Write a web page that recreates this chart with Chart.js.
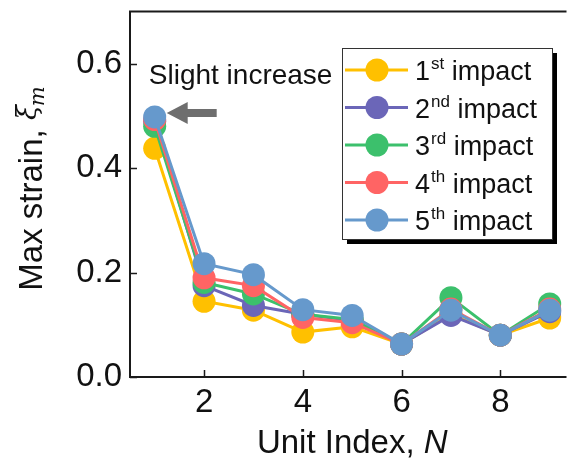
<!DOCTYPE html>
<html>
<head>
<meta charset="utf-8">
<script src="https://cdn.jsdelivr.net/npm/chart.js@4.4.1/dist/chart.umd.min.js"></script>
<style>
  html, body { margin: 0; padding: 0; background: #fff; }
  #wrap { width: 576px; height: 461px; }
</style>
</head>
<body>
<div id="wrap"><canvas id="strainChart"></canvas></div>
<script>
// max strain per unit, one array per impact
const unitIndex = [1, 2, 3, 4, 5, 6, 7, 8, 9];
const impact1 = [0.438, 0.145, 0.128, 0.086, 0.096, 0.063, 0.120, 0.080, 0.113];
const impact2 = [0.490, 0.175, 0.137, 0.120, 0.108, 0.063, 0.118, 0.080, 0.125];
const impact3 = [0.480, 0.181, 0.159, 0.120, 0.110, 0.063, 0.152, 0.080, 0.140];
const impact4 = [0.493, 0.190, 0.175, 0.114, 0.104, 0.063, 0.130, 0.080, 0.130];
const impact5 = [0.498, 0.217, 0.196, 0.129, 0.118, 0.063, 0.128, 0.080, 0.128];

const impactNum = ["1", "2", "3", "4", "5"];
const impactSuffix = ["st", "nd", "rd", "th", "th"];
const colors = ["#ffc000", "#6b66b8", "#3cc06c", "#ff6464", "#6699cc"];

const xTicks = [2, 4, 6, 8];
const yTicks = [0, 0.2, 0.4, 0.6];

// arrow + note near the first unit
const noteText = "Slight increase";
const noteAt = { x: 0.88, y: 0.562 };

const FONT = "'Liberation Sans', Arial, sans-serif";

const series = [impact1, impact2, impact3, impact4, impact5];
const datasets = series.map((vals, i) => ({
  label: impactNum[i] + impactSuffix[i] + " impact",
  data: unitIndex.map((x, j) => ({ x: x, y: vals[j] })),
  borderColor: colors[i],
  backgroundColor: colors[i],
  pointBackgroundColor: colors[i],
  pointBorderWidth: 0,
  pointRadius: 11.5,
  borderWidth: 3,
  order: series.length - i, // later impacts on top
}));

const extras = {
  id: "extras",
  afterDraw(chart) {
    const ctx = chart.ctx;
    const a = chart.chartArea;
    const xs = chart.scales.x, ys = chart.scales.y;
    ctx.save();

    // frame (top, left, bottom)
    ctx.strokeStyle = "#1a1a1a";
    ctx.lineWidth = 2;
    ctx.beginPath();
    ctx.moveTo(a.right + 2, a.top);
    ctx.lineTo(a.left, a.top);
    ctx.lineTo(a.left, a.bottom);
    ctx.lineTo(a.right + 2, a.bottom);
    ctx.stroke();

    // inward ticks
    ctx.lineWidth = 1.5;
    ctx.beginPath();
    xTicks.forEach(v => {
      const px = Math.round(xs.getPixelForValue(v)) + 0.5;
      ctx.moveTo(px, a.bottom);
      ctx.lineTo(px, a.bottom - 7);
    });
    yTicks.forEach(v => {
      const py = Math.round(ys.getPixelForValue(v)) + 0.5;
      ctx.moveTo(a.left, py);
      ctx.lineTo(a.left + 7, py);
    });
    ctx.stroke();

    // x title: Unit Index, N
    ctx.fillStyle = "#111";
    ctx.textBaseline = "alphabetic";
    ctx.textAlign = "left";
    ctx.font = "33px " + FONT;
    const xt1 = "Unit Index, ";
    const w1 = ctx.measureText(xt1).width;
    ctx.font = "italic 33px " + FONT;
    const w2 = ctx.measureText("N").width;
    let sx = (a.left + a.right) / 2 + 5 - (w1 + w2) / 2;
    ctx.font = "33px " + FONT;
    ctx.fillText(xt1, sx, 453);
    ctx.font = "italic 33px " + FONT;
    ctx.fillText("N", sx + w1, 453);

    // y title: Max strain, ξm
    ctx.save();
    ctx.translate(42, 188);
    ctx.rotate(-Math.PI / 2);
    ctx.font = "33px " + FONT;
    const yt1 = "Max strain, ";
    const yw1 = ctx.measureText(yt1).width;
    ctx.font = "italic 27px 'DejaVu Serif', serif";
    const yw2 = ctx.measureText("ξ").width;
    ctx.font = "italic 21px 'DejaVu Serif', serif";
    const yw3 = ctx.measureText("m").width;
    let ty = -(yw1 + yw2 + yw3) / 2;
    ctx.font = "33px " + FONT;
    ctx.fillText(yt1, ty, 0);
    ctx.font = "italic 27px 'DejaVu Serif', serif";
    ctx.fillText("ξ", ty + yw1, -6);
    ctx.font = "italic 21px 'DejaVu Serif', serif";
    ctx.fillText("m", ty + yw1 + yw2 - 1, 2);
    ctx.restore();

    // note and arrow
    ctx.font = "28px " + FONT;
    ctx.fillStyle = "#111";
    ctx.fillText(noteText, xs.getPixelForValue(noteAt.x), ys.getPixelForValue(noteAt.y));
    const tipX = xs.getPixelForValue(unitIndex[0]) + 12;
    const tipY = ys.getPixelForValue(impact5[0]) - 4;
    ctx.fillStyle = "#6e6e6e";
    ctx.beginPath();
    ctx.moveTo(tipX, tipY);
    ctx.lineTo(tipX + 21, tipY - 11);
    ctx.lineTo(tipX + 21, tipY - 4);
    ctx.lineTo(tipX + 50, tipY - 4);
    ctx.lineTo(tipX + 50, tipY + 4);
    ctx.lineTo(tipX + 21, tipY + 4);
    ctx.lineTo(tipX + 21, tipY + 11);
    ctx.closePath();
    ctx.fill();

    // legend box with shadow
    const bx = 342, by = 48, bw = 210, bh = 191;
    ctx.fillStyle = "#000";
    ctx.fillRect(bx + 5, by + 5, bw, bh);
    ctx.fillStyle = "#fff";
    ctx.fillRect(bx, by, bw, bh);
    ctx.strokeStyle = "#333";
    ctx.lineWidth = 1;
    ctx.strokeRect(bx + 0.5, by + 0.5, bw, bh);

    chart.data.datasets.forEach((ds, i) => {
      const cy = 70 + i * 37.5;
      ctx.strokeStyle = ds.borderColor;
      ctx.lineWidth = 3;
      ctx.beginPath();
      ctx.moveTo(345, cy);
      ctx.lineTo(408, cy);
      ctx.stroke();
      ctx.fillStyle = ds.backgroundColor;
      ctx.beginPath();
      ctx.arc(377, cy, 11.5, 0, Math.PI * 2);
      ctx.fill();

      ctx.fillStyle = "#111";
      let tx = 415;
      const base = cy + 10;
      ctx.font = "27px " + FONT;
      ctx.fillText(impactNum[i], tx, base);
      tx += ctx.measureText(impactNum[i]).width;
      ctx.font = "17px " + FONT;
      ctx.fillText(impactSuffix[i], tx + 1, base - 11);
      tx += ctx.measureText(impactSuffix[i]).width + 1;
      ctx.font = "27px " + FONT;
      ctx.fillText(" impact", tx, base);
    });

    ctx.restore();
  }
};

// drop the automatic half-label padding so the plot box sits where we want it
const noEdgePadding = s => {
  s.paddingTop = 0;
  s.paddingBottom = 0;
  s.paddingLeft = 0;
  s.paddingRight = 0;
};

const ctx = document.getElementById("strainChart").getContext("2d");
const strainChart = new Chart(ctx, {
  type: "line",
  data: { datasets: datasets },
  options: {
    responsive: true,
    maintainAspectRatio: false,
    animation: false,
    devicePixelRatio: 1,
    layout: { padding: { top: 10, right: 0, left: 0, bottom: 0 } },
    plugins: { legend: { display: false }, tooltip: { enabled: false } },
    scales: {
      x: {
        type: "linear",
        min: 0.5,
        max: 9.3,
        afterBuildTicks: s => { s.ticks = xTicks.map(v => ({ value: v })); },
        afterFit: s => { s.height = 84; noEdgePadding(s); },
        grid: { display: false, drawTicks: false },
        border: { display: false },
        ticks: {
          color: "#111",
          font: { family: FONT, size: 33 },
          padding: 6,
          maxRotation: 0,
          callback: v => String(v),
        },
      },
      y: {
        type: "linear",
        min: 0,
        max: 0.7,
        afterBuildTicks: s => { s.ticks = yTicks.map(v => ({ value: v })); },
        afterFit: s => { s.width = 130; noEdgePadding(s); },
        grid: { display: false, drawTicks: false },
        border: { display: false },
        ticks: {
          color: "#111",
          font: { family: FONT, size: 33 },
          padding: 8,
          callback: v => v.toFixed(1),
        },
      },
    },
  },
  plugins: [extras],
});
</script>
</body>
</html>
